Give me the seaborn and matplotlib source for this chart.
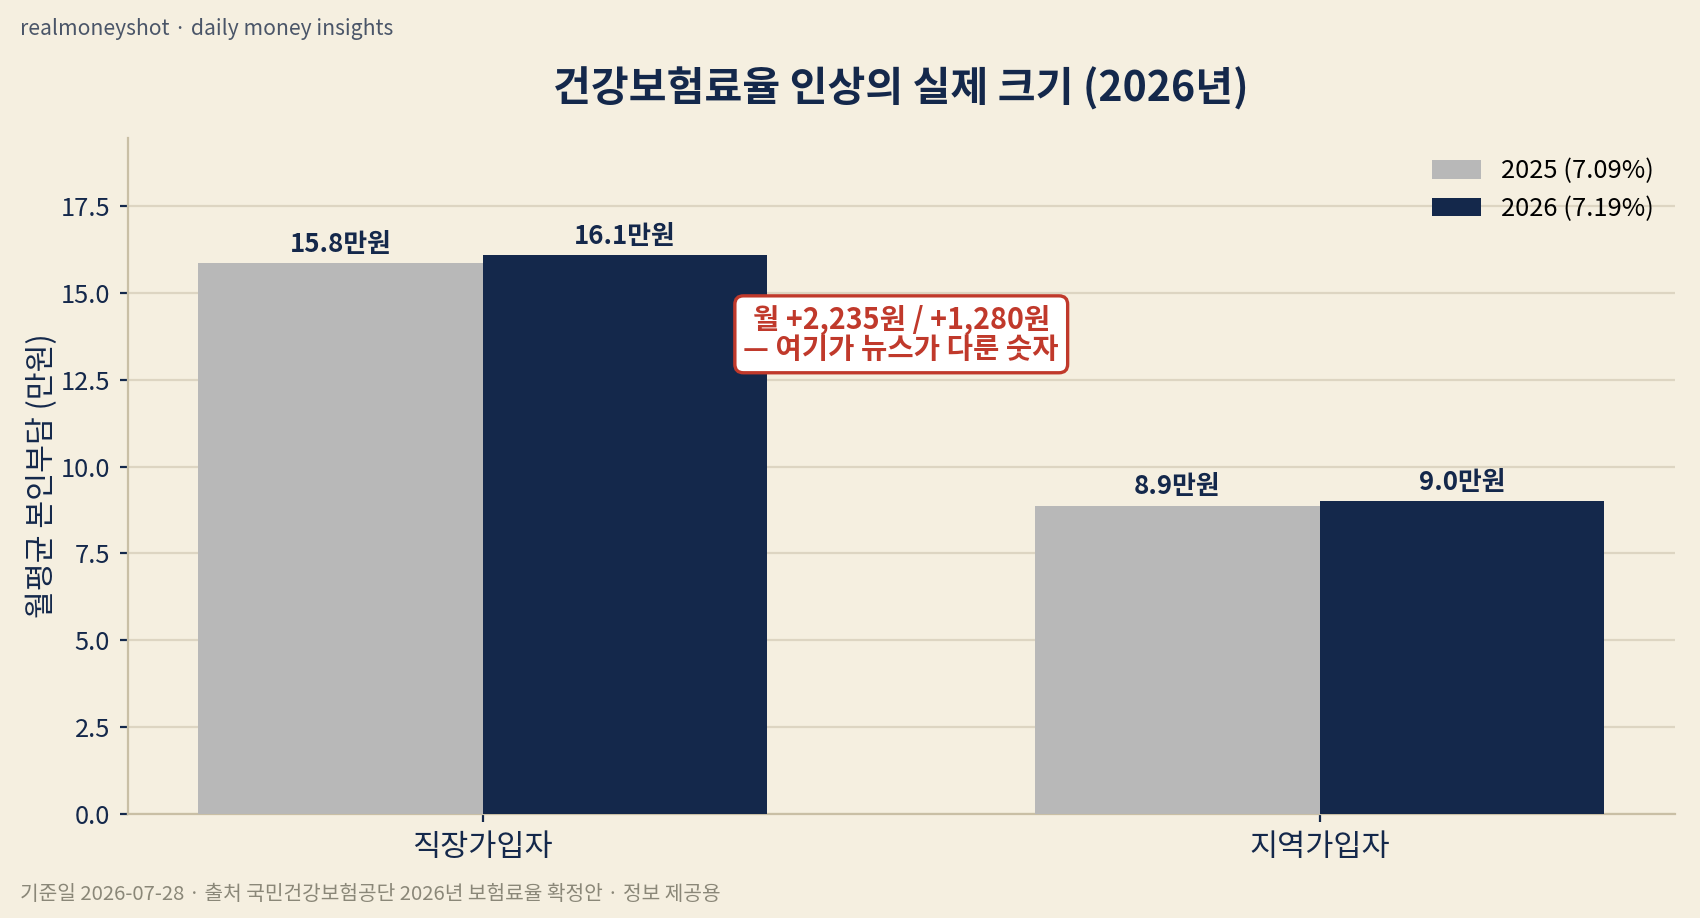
import matplotlib
matplotlib.use("Agg")
import matplotlib.pyplot as plt
import seaborn as sns
import pandas as pd

categories = ["직장가입자", "지역가입자"]
series_names = ["2025 (7.09%)", "2026 (7.19%)"]
values_2025 = [15.846, 8.870]
values_2026 = [16.081, 8.998]
title = "건강보험료율 인상의 실제 크기 (2026년)"
ylabel = "월평균 본인부담 (만원)"
annotation = "월 +2,235원 / +1,280원\n— 여기가 뉴스가 다룬 숫자"
brand = "realmoneyshot · daily money insights"
footer = "기준일 2026-07-28 · 출처 국민건강보험공단 2026년 보험료율 확정안 · 정보 제공용"

BG = "#F5EFE0"
NAVY = "#14284B"
GRAY = "#B8B8B8"
RED = "#C0392B"
GRID = "#DDD5C2"
SPINE = "#C9BFA5"

sns.set_theme(style="white")
plt.rcParams["font.family"] = ["Noto Sans CJK KR", "DejaVu Sans"]

df = pd.DataFrame({
    "group": categories * 2,
    "year": [series_names[0]] * 2 + [series_names[1]] * 2,
    "value": values_2025 + values_2026,
})

fig = plt.figure(figsize=(8.5, 4.59), dpi=200, facecolor=BG)
ax = fig.add_axes([0.0753, 0.1133, 0.985 - 0.0753, 0.8497 - 0.1133])
ax.set_facecolor(BG)

sns.barplot(data=df, x="group", y="value", hue="year", order=categories,
            hue_order=series_names, palette=[GRAY, NAVY], width=0.68,
            saturation=1, linewidth=0, edgecolor="none", ax=ax, zorder=3)

for cont in ax.containers:
    ax.bar_label(cont, labels=[f"{b.get_height():.1f}만원" for b in cont],
                 padding=2, fontsize=9.3, fontweight="bold", color=NAVY)

ax.set_xlim(-0.424, 1.424)
ax.set_ylim(0, max(values_2026) * 1.21)
ax.yaxis.set_major_locator(matplotlib.ticker.MultipleLocator(2.5))
ax.yaxis.set_major_formatter(matplotlib.ticker.FormatStrFormatter("%.1f"))
ax.grid(axis="y", color=GRID, linewidth=0.8, zorder=0)
ax.set_axisbelow(True)

for s in ["top", "right"]:
    ax.spines[s].set_visible(False)
for s in ["left", "bottom"]:
    ax.spines[s].set_color(SPINE)
    ax.spines[s].set_linewidth(0.8)

ax.tick_params(axis="y", labelsize=9.2, colors=NAVY, length=3, width=0.8, left=True)
ax.tick_params(axis="x", labelsize=11, colors=NAVY, length=3, width=0.8, bottom=True)
ax.set_xlabel("")
ax.set_ylabel(ylabel, fontsize=10.9, color=NAVY, labelpad=1)

ax.set_title(title, fontsize=14.8, fontweight="bold", color=NAVY, pad=13)

ax.annotate(annotation, xy=(0.5, 13.8), xycoords="data", ha="center", va="center",
            fontsize=10.3, fontweight="bold", color=RED, linespacing=0.95,
            bbox=dict(boxstyle="round,pad=0.3", facecolor="white", edgecolor=RED,
                      linewidth=1.2), zorder=5)

leg = ax.legend(loc="upper right", frameon=False, fontsize=9.2,
                handlelength=1.9, handleheight=0.75, borderaxespad=0.4,
                labelspacing=0.45)
for t in leg.get_texts():
    t.set_color("black")

fig.text(0.012, 0.968, brand, fontsize=7.6, color="#4A5568", ha="left", va="center")
fig.text(0.012, 0.026, footer, fontsize=7.3, color="#8A8778", ha="left", va="center")

fig.savefig("out.png", dpi=200, facecolor=BG)
